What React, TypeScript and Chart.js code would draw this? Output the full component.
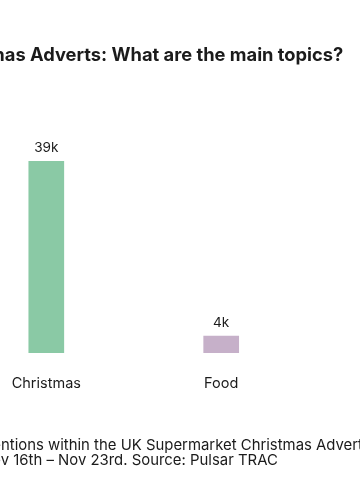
import React, { useEffect, useRef } from "react";
import { Chart, registerables } from "chart.js";

Chart.register(...registerables);

const categories = ["Christmas", "Food"];
const mentions = [39200, 3500];
const barColors = ["#8ac9a5", "#c6b0c9"];
const titleText = "UK Supermarket Christmas Adverts: What are the main topics?";
const footerLines = [
  ["Number of me", "ntions within the UK Supermarket Christmas Adverts conversation."],
  ["Period: No", "v 16th – Nov 23rd. Source: Pulsar TRAC"],
];

const FONT = "Inter, Lato, sans-serif";
const TEXT = "#1b1b1b";
const OFFSET = 150; // canvas x of page x = 0
const CW = 510;
const CH = 500;

const fmtK = (v: number) => Math.round(v / 1000) + "k";

// pick a font size so that a sample string has the given pixel width
function fitSize(sample: string, target: number, weight: string): number {
  const c = document.createElement("canvas").getContext("2d")!;
  c.font = `${weight} 100px ${FONT}`;
  return (100 * target) / c.measureText(sample).width;
}

export default function App() {
  const ref = useRef<HTMLCanvasElement>(null);
  useEffect(() => {
    if (!ref.current) return;
    const titleSize = fitSize("as Adverts: What are the main topics?", 338.6, "bold");
    const footSize = fitSize("ntions within the UK Supermarket ", 240, "normal");
    const tickSize = fitSize("Christmas", 69.3, "normal");
    const valSize = fitSize("39k", 24.3, "normal");

    const textPlugin = {
      id: "textPlugin",
      afterDatasetsDraw(chart: any) {
        const ctx = chart.ctx;
        ctx.save();
        ctx.fillStyle = TEXT;
        ctx.font = `${valSize}px ${FONT}`;
        ctx.textAlign = "center";
        ctx.textBaseline = "alphabetic";
        const meta = chart.getDatasetMeta(0);
        meta.data.forEach((bar: any, i: number) => {
          ctx.fillText(fmtK(mentions[i]), bar.x, bar.y - 9);
        });
        ctx.font = `bold ${titleSize}px ${FONT}`;
        ctx.textAlign = "right";
        ctx.fillText(titleText, OFFSET + 343.3, 61);
        ctx.font = `${footSize}px ${FONT}`;
        ctx.textAlign = "left";
        footerLines.forEach((pair, i) => {
          const pre = ctx.measureText(pair[0]).width;
          ctx.fillText(pair[0] + pair[1], OFFSET + 1 - pre, 450 + i * 14.5);
        });
        ctx.restore();
      },
    };

    const chart = new Chart(ref.current, {
      type: "bar",
      data: {
        labels: categories,
        datasets: [
          {
            data: mentions,
            backgroundColor: barColors,
            borderWidth: 0,
            barPercentage: 0.204,
            categoryPercentage: 1,
          },
        ],
      },
      options: {
        animation: false,
        responsive: false,
        devicePixelRatio: 1,
        layout: { padding: { left: 108.85, right: 51.35, top: 108, bottom: 107 } },
        plugins: { legend: { display: false }, tooltip: { enabled: false } },
        scales: {
          x: {
            grid: { display: false, drawTicks: false },
            border: { display: false },
            ticks: { color: TEXT, font: { family: FONT, size: tickSize }, padding: 22 },
            afterFit: (s: any) => {
              s.height = 40;
            },
          },
          y: { display: false, min: 0, max: 50000 },
        },
      },
      plugins: [textPlugin],
    });
    return () => chart.destroy();
  }, []);
  return (
    <div
      style={{
        position: "fixed",
        left: 0,
        top: 0,
        width: 360,
        height: 500,
        overflow: "hidden",
        background: "#fff",
      }}
    >
      <canvas
        ref={ref}
        width={CW}
        height={CH}
        style={{ position: "absolute", left: -OFFSET, top: 0, width: CW, height: CH }}
      />
    </div>
  );
}
